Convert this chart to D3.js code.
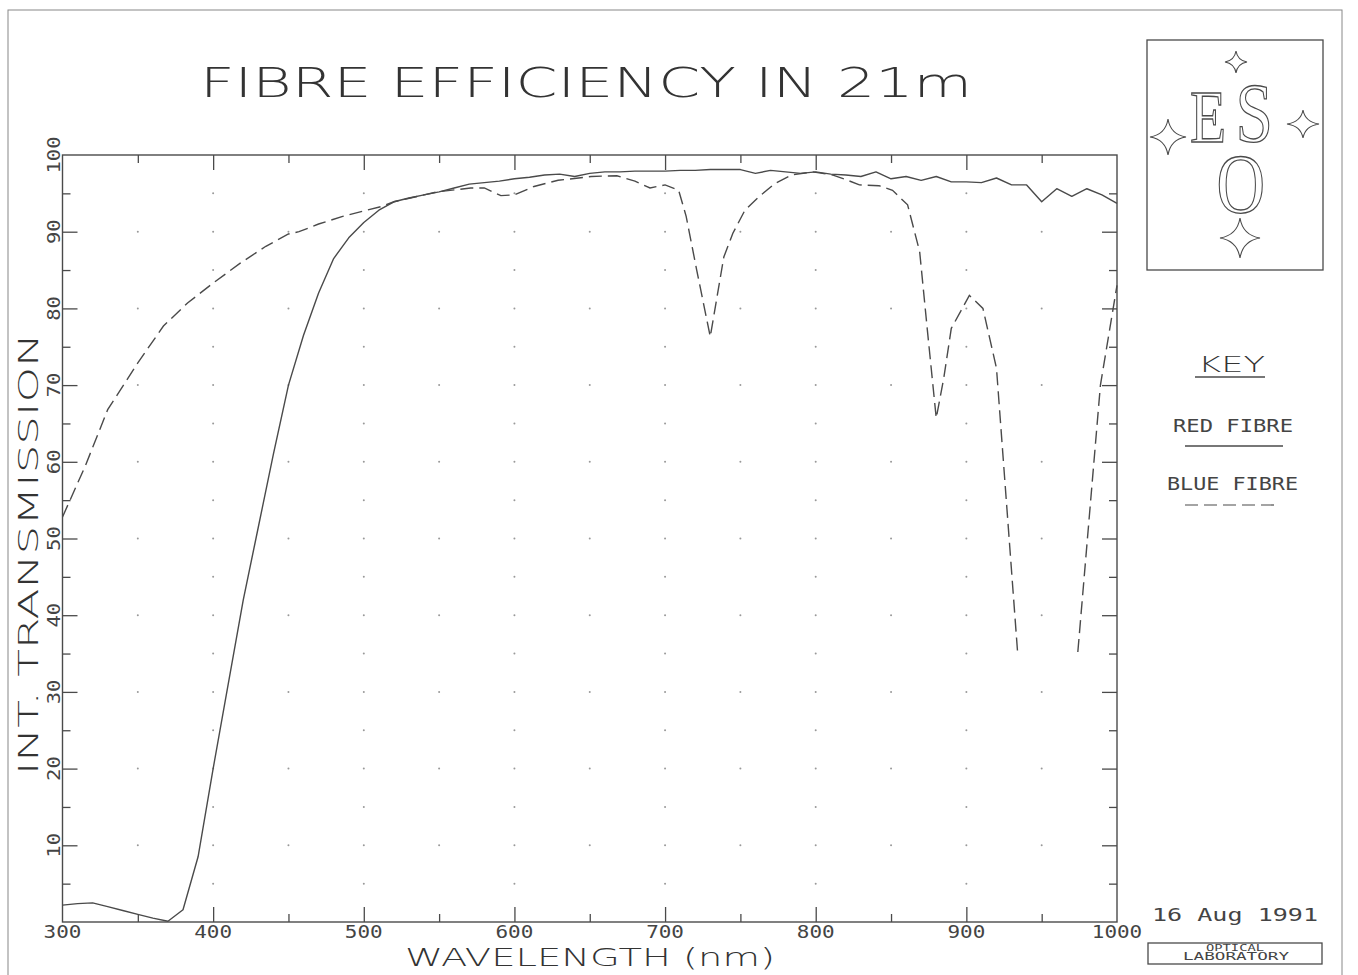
<!DOCTYPE html>
<html>
<head>
<meta charset="utf-8">
<script src="https://cdn.jsdelivr.net/npm/d3@7/dist/d3.min.js"></script>
<style>
  body { margin: 0; background: #fff; }
  svg text { font-family: "DejaVu Sans Mono", "Liberation Mono", monospace; fill: #444; font-variant-numeric: slashed-zero; }
  .thin { font-family: "DejaVu Sans", "Liberation Sans", sans-serif; font-weight: 200; fill: #333; }
</style>
</head>
<body>
<svg id="chart" width="1358" height="975"></svg>
<script>
// Red fibre: integrated transmission (%) against wavelength (nm)
const redWavelengths = [300,310,320,330,340,350,360,370,380,390,400,410,420,430,440,450,460,470,480,490,
  500,510,520,530,540,550,560,570,580,590,600,610,620,630,640,650,660,670,680,690,
  700,710,720,730,740,750,760,770,780,790,800,810,820,830,840,850,860,870,880,890,
  900,910,920,930,940,950,960,970,980,990,1000];
const redTransmission = [2.2,2.4,2.5,2.0,1.5,1.0,0.5,0.1,1.6,8.5,20,31,42,51.5,61,70,76.5,82,86.5,89.2,
  91.2,92.8,93.9,94.4,94.8,95.2,95.7,96.2,96.4,96.6,96.9,97.1,97.4,97.5,97.2,97.6,97.8,97.8,97.9,97.9,
  97.9,98.0,98.0,98.1,98.1,98.1,97.6,98.0,97.8,97.6,97.8,97.5,97.4,97.2,97.8,96.9,97.2,96.7,97.2,96.5,
  96.5,96.4,97.0,96.1,96.1,93.9,95.6,94.6,95.6,94.8,93.7];

// Blue fibre: the trace breaks off between 934 and 974 nm
const blueWavelengths = [300,315,330,350,367,383,400,418,435,450,457,470,486,500,512,520,531,549,571,580,
  591,600,613,629,651,668,680,690,700,709,714,721,730,739,745,753,762,773,784,798,
  811,820,829,842,851,861,869,874,880,885,890,902,911,920,934,954,974,989,1000];
const blueTransmission = [52.8,59.4,66.8,72.9,77.7,80.7,83.3,85.9,88.1,89.7,90.0,91.0,92.0,92.7,93.3,93.9,94.4,95.2,95.7,95.7,
  94.7,94.8,95.9,96.7,97.2,97.3,96.6,95.7,96.1,95.4,92.0,85.0,76.3,86.7,89.8,92.8,94.5,96.3,97.4,97.8,
  97.4,96.8,96.1,96.0,95.4,93.5,87.4,77.4,65.7,70.9,77.4,81.7,80.0,72.2,35.2,null,35.2,70.0,83.0];

// Axis ticks and labels
const xMajorTicks = [300,400,500,600,700,800,900,1000];
const xMinorTicks = [350,450,550,650,750,850,950];
const xTickLabels = ["300","400","500","600","700","800","900","1000"];
const yMajorTicks = [0,10,20,30,40,50,60,70,80,90,100];
const yMinorTicks = [5,15,25,35,45,55,65,75,85,95];
const yLabelValues = [10,20,30,40,50,60,70,80,90,100];
const yTickLabels = ["10","20","30","40","50","60","70","80","90","100"];

// Dotted grid: every 50 nm on the 10 % rows, every 100 nm on the 5 % rows
const gridRowsMajor = [10,20,30,40,50,60,70,80,90];
const gridColsMajor = [350,400,450,500,550,600,650,700,750,800,850,900,950];
const gridRowsMinor = [5,15,25,35,45,55,65,75,85,95];
const gridColsMinor = [400,500,600,700,800,900];

const ink = "#4a4a4a";
const svg = d3.select("#chart");

const x = d3.scaleLinear().domain([300, 1000]).range([62.5, 1117]);
const y = d3.scaleLinear().domain([0, 100]).range([922, 155]);

// Sheet border
svg.append("rect").attr("x", 8).attr("y", 10).attr("width", 1334).attr("height", 990)
  .attr("fill", "none").attr("stroke", "#888").attr("stroke-width", 1);

// Grid dots
const dots = [];
gridRowsMajor.forEach(r => gridColsMajor.forEach(c => dots.push([c, r])));
gridRowsMinor.forEach(r => gridColsMinor.forEach(c => dots.push([c, r])));
svg.append("g").selectAll("circle").data(dots).join("circle")
  .attr("cx", d => x(d[0])).attr("cy", d => y(d[1])).attr("r", 1).attr("fill", "#999");

// Axes with inward ticks on all four sides
function styleAxis(g) {
  g.select(".domain").remove();
  g.selectAll(".tick line").attr("stroke", ink).attr("stroke-width", 1.3);
  g.selectAll(".tick text").remove();
}
const axes = svg.append("g");
axes.append("g").attr("transform", `translate(0,${y(0)})`)
  .call(d3.axisBottom(x).tickValues(xMajorTicks.slice(1, -1)).tickSize(-15)).call(styleAxis);
axes.append("g").attr("transform", `translate(0,${y(0)})`)
  .call(d3.axisBottom(x).tickValues(xMinorTicks).tickSize(-8)).call(styleAxis);
axes.append("g").attr("transform", `translate(0,${y(100)})`)
  .call(d3.axisTop(x).tickValues(xMajorTicks.slice(1, -1)).tickSize(-15)).call(styleAxis);
axes.append("g").attr("transform", `translate(0,${y(100)})`)
  .call(d3.axisTop(x).tickValues(xMinorTicks).tickSize(-8)).call(styleAxis);
axes.append("g").attr("transform", `translate(${x(300)},0)`)
  .call(d3.axisLeft(y).tickValues(yMajorTicks.slice(1, -1)).tickSize(-15)).call(styleAxis);
axes.append("g").attr("transform", `translate(${x(300)},0)`)
  .call(d3.axisLeft(y).tickValues(yMinorTicks).tickSize(-8)).call(styleAxis);
axes.append("g").attr("transform", `translate(${x(1000)},0)`)
  .call(d3.axisRight(y).tickValues(yMajorTicks.slice(1, -1)).tickSize(-15)).call(styleAxis);
axes.append("g").attr("transform", `translate(${x(1000)},0)`)
  .call(d3.axisRight(y).tickValues(yMinorTicks).tickSize(-8)).call(styleAxis);

// Plot frame
svg.append("rect").attr("x", x(300)).attr("y", y(100))
  .attr("width", x(1000) - x(300)).attr("height", y(0) - y(100))
  .attr("fill", "none").attr("stroke", ink).attr("stroke-width", 1.4);

// Tick labels
svg.append("g").selectAll("text").data(xMajorTicks).join("text")
  .attr("x", d => x(d)).attr("y", 938).attr("text-anchor", "middle")
  .attr("font-size", 18)
  .attr("textLength", (d, i) => xTickLabels[i].length * 12.6).attr("lengthAdjust", "spacingAndGlyphs")
  .text((d, i) => xTickLabels[i]);
svg.append("g").selectAll("text").data(yLabelValues).join("text")
  .attr("transform", d => `translate(60,${y(d)}) rotate(-90)`)
  .attr("text-anchor", "middle").attr("font-size", 18)
  .attr("textLength", (d, i) => yTickLabels[i].length * 12.4).attr("lengthAdjust", "spacingAndGlyphs")
  .text((d, i) => yTickLabels[i]);

// Curves
const line = d3.line().defined(d => d[1] != null).x(d => x(d[0])).y(d => y(d[1]));
const redPoints = redWavelengths.map((w, i) => [w, redTransmission[i]]);
const bluePoints = blueWavelengths.map((w, i) => [w, blueTransmission[i]]);
svg.append("path").datum(redPoints).attr("d", line)
  .attr("fill", "none").attr("stroke", ink).attr("stroke-width", 1.4).attr("stroke-linejoin", "round");
svg.append("path").datum(bluePoints).attr("d", line)
  .attr("fill", "none").attr("stroke", ink).attr("stroke-width", 1.4)
  .attr("stroke-dasharray", "13,6");

// Titles
svg.append("text").attr("class", "thin").attr("x", 200).attr("y", 97)
  .attr("font-size", 41).attr("textLength", 772).attr("lengthAdjust", "spacingAndGlyphs")
  .text("FIBRE EFFICIENCY IN 21m");
svg.append("text").attr("class", "thin").attr("transform", "translate(38,775) rotate(-90)")
  .attr("font-size", 27).attr("textLength", 442).attr("lengthAdjust", "spacingAndGlyphs")
  .text("INT. TRANSMISSION");
svg.append("text").attr("class", "thin").attr("x", 405).attr("y", 966)
  .attr("font-size", 24).attr("textLength", 370).attr("lengthAdjust", "spacingAndGlyphs")
  .text("WAVELENGTH (nm)");

// Key
const key = svg.append("g");
key.append("text").attr("class", "thin").attr("x", 1198).attr("y", 372).attr("font-size", 21)
  .attr("textLength", 67).attr("lengthAdjust", "spacingAndGlyphs").text("KEY");
key.append("line").attr("x1", 1195).attr("x2", 1265).attr("y1", 377).attr("y2", 377)
  .attr("stroke", ink).attr("stroke-width", 1.6);
key.append("text").attr("x", 1173).attr("y", 432).attr("font-size", 17)
  .attr("textLength", 120).attr("lengthAdjust", "spacingAndGlyphs").text("RED FIBRE");
key.append("line").attr("x1", 1185).attr("x2", 1283).attr("y1", 446).attr("y2", 446)
  .attr("stroke", ink).attr("stroke-width", 1.4);
key.append("text").attr("x", 1167).attr("y", 490).attr("font-size", 17)
  .attr("textLength", 131).attr("lengthAdjust", "spacingAndGlyphs").text("BLUE FIBRE");
key.append("line").attr("x1", 1185).attr("x2", 1280).attr("y1", 505).attr("y2", 505)
  .attr("stroke", ink).attr("stroke-width", 1.2).attr("stroke-dasharray", "13,6");

// Date stamp and laboratory label
svg.append("text").attr("x", 1152).attr("y", 921).attr("font-size", 18)
  .attr("textLength", 166).attr("lengthAdjust", "spacingAndGlyphs").text("16 Aug 1991");
svg.append("rect").attr("x", 1148).attr("y", 943).attr("width", 174).attr("height", 21)
  .attr("fill", "none").attr("stroke", ink).attr("stroke-width", 1.3);
svg.append("text").attr("x", 1235).attr("y", 951).attr("text-anchor", "middle").attr("font-size", 9)
  .attr("textLength", 58).attr("lengthAdjust", "spacingAndGlyphs").text("OPTICAL");
svg.append("text").attr("x", 1236).attr("y", 960).attr("text-anchor", "middle").attr("font-size", 10)
  .attr("textLength", 106).attr("lengthAdjust", "spacingAndGlyphs").text("LABORATORY");

// Observatory emblem
const logo = svg.append("g");
logo.append("rect").attr("x", 1147).attr("y", 40).attr("width", 176).attr("height", 230)
  .attr("fill", "none").attr("stroke", ink).attr("stroke-width", 1.3);
function star(cx, cy, rx, ry) {
  const kx = rx * 0.14, ky = ry * 0.14;
  const p = d3.path();
  p.moveTo(cx, cy - ry);
  p.quadraticCurveTo(cx + kx, cy - ky, cx + rx, cy);
  p.quadraticCurveTo(cx + kx, cy + ky, cx, cy + ry);
  p.quadraticCurveTo(cx - kx, cy + ky, cx - rx, cy);
  p.quadraticCurveTo(cx - kx, cy - ky, cx, cy - ry);
  p.closePath();
  logo.append("path").attr("d", p.toString()).attr("fill", "#fff")
    .attr("stroke", ink).attr("stroke-width", 1.1);
}
star(1236, 62, 11, 11);
star(1168, 137, 18, 18);
star(1303, 124, 16, 14);
star(1240, 238, 20, 20);
// Outlined serif letters, condensed horizontally, set as one text block
const emblem = logo.append("text").attr("transform", "translate(1190,0) scale(0.8,1)")
  .style("font-family", "Liberation Serif, DejaVu Serif, serif")
  .style("fill", "#fff").attr("stroke", ink).attr("stroke-width", 1.3);
emblem.append("tspan").attr("x", 0).attr("y", 142).attr("font-size", 74).text("E");
emblem.append("tspan").attr("x", 57).attr("y", 142).attr("font-size", 84).text("S");
emblem.append("tspan").attr("x", 33).attr("y", 213).attr("font-size", 84).text("O");
</script>
</body>
</html>
